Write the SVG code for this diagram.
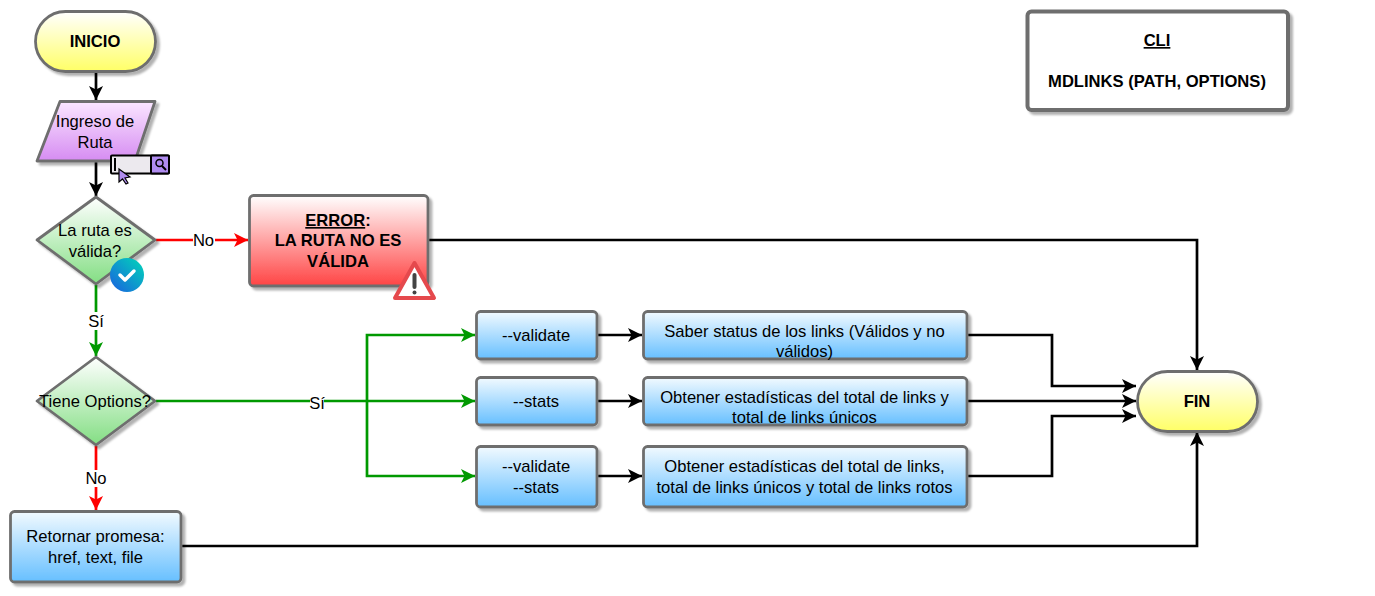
<svg xmlns="http://www.w3.org/2000/svg" width="1375" height="596" viewBox="0 0 1375 596">
<style>
text{font-family:"Liberation Sans",Arial,Helvetica,sans-serif;font-size:16.6px;fill:#000;text-anchor:middle}
.b{font-weight:bold}
.n{stroke:#6e6e6e;stroke-width:2.8;stroke-linejoin:round;filter:url(#sh)}
.y{fill:url(#gy)}.p{fill:url(#gp)}.g{fill:url(#gg)}.bl{fill:url(#gb)}.r{fill:url(#gr)}
.c{fill:none;stroke-width:2.7}
.k{stroke:#000}.gn{stroke:#090}.rd{stroke:#f00}
.lbl{fill:#fff;stroke:none}
</style>
<defs>
<filter id="sh" x="-10%" y="-10%" width="125%" height="125%"><feDropShadow dx="3" dy="3" stdDeviation="1.2" flood-color="#000" flood-opacity="0.3"/></filter>
<linearGradient id="gy" x1="0" y1="0" x2="0" y2="1"><stop offset="0" stop-color="#fff"/><stop offset="1" stop-color="#ff6"/></linearGradient>
<linearGradient id="gp" x1="0" y1="0" x2="0" y2="1"><stop offset="0" stop-color="#fae6ff"/><stop offset="1" stop-color="#d68cf2"/></linearGradient>
<linearGradient id="gg" x1="0" y1="0" x2="0" y2="1"><stop offset="0" stop-color="#fff"/><stop offset="1" stop-color="#83de83"/></linearGradient>
<linearGradient id="gb" x1="0" y1="0" x2="0" y2="1"><stop offset="0" stop-color="#f2faff"/><stop offset="1" stop-color="#66bfff"/></linearGradient>
<linearGradient id="gr" x1="0" y1="0" x2="0" y2="1"><stop offset="0" stop-color="#fff"/><stop offset="1" stop-color="#f44"/></linearGradient>
<linearGradient id="gc" x1="0" y1="1" x2="1" y2="0"><stop offset="0" stop-color="#1a5fe0"/><stop offset="1" stop-color="#00d8b8"/></linearGradient>
<marker id="ak" markerUnits="userSpaceOnUse" markerWidth="16" markerHeight="16" refX="14" refY="7" orient="auto" overflow="visible"><path d="M0 0L14 7L0 14L3.500 7Z" fill="#000"/></marker>
<marker id="ag" markerUnits="userSpaceOnUse" markerWidth="16" markerHeight="16" refX="14" refY="7" orient="auto" overflow="visible"><path d="M0 0L14 7L0 14L3.500 7Z" fill="#090"/></marker>
<marker id="ar" markerUnits="userSpaceOnUse" markerWidth="16" markerHeight="16" refX="14" refY="7" orient="auto" overflow="visible"><path d="M0 0L14 7L0 14L3.500 7Z" fill="#f00"/></marker>
</defs>
<g id="connectors">
<path class="c k" d="M96 72V100" marker-end="url(#ak)"/>
<path class="c k" d="M96 162V196" marker-end="url(#ak)"/>
<path class="c rd" d="M156 240H248" marker-end="url(#ar)"/>
<path class="c gn" d="M96 285V356" marker-end="url(#ag)"/>
<path class="c rd" d="M96 446V510" marker-end="url(#ar)"/>
<path class="c k" d="M429 240H1197V370" marker-end="url(#ak)"/>
<path class="c k" d="M182 546H1197V432" marker-end="url(#ak)"/>
<path class="c gn" d="M156 401H475" marker-end="url(#ag)"/>
<path class="c gn" d="M367 401V335H475" marker-end="url(#ag)"/>
<path class="c gn" d="M367 401V476H475" marker-end="url(#ag)"/>
<path class="c k" d="M598 335H642" marker-end="url(#ak)"/>
<path class="c k" d="M598 401H642" marker-end="url(#ak)"/>
<path class="c k" d="M598 476H642" marker-end="url(#ak)"/>
<path class="c k" d="M968 335H1052V386H1136" marker-end="url(#ak)"/>
<path class="c k" d="M968 401H1136" marker-end="url(#ak)"/>
<path class="c k" d="M968 476H1052V416H1136" marker-end="url(#ak)"/>
<rect class="lbl" x="193" y="232" width="22" height="17"/><text x="203.500" y="246">No</text>
<rect class="lbl" x="87" y="312" width="18" height="18"/><text x="96" y="327">Sí</text>
<rect class="lbl" x="310" y="393" width="14" height="17"/><text x="317" y="409">Sí</text>
<rect class="lbl" x="85" y="470" width="22" height="17"/><text x="96" y="484">No</text>
</g>
<g id="inicio"><rect class="n y" x="35.500" y="11.500" width="120" height="60" rx="30"/><text class="b" x="95" y="47">INICIO</text></g>
<g id="ingreso"><path class="n p" d="M60 101.500H155L135 161H37Z"/><text x="95" y="127">Ingreso de</text><text x="95" y="148">Ruta</text></g>
<g id="search-icon">
<rect x="111" y="155.500" width="58" height="18" rx="1" fill="#ece9ee" stroke="#000" stroke-width="2"/>
<rect x="151" y="155.500" width="18" height="18" rx="1" fill="#b08cf0" stroke="#000" stroke-width="2"/>
<circle cx="159.500" cy="163" r="3.500" fill="none" stroke="#000" stroke-width="1.500"/><path d="M162 166L166 170" stroke="#000" stroke-width="2"/>
<path d="M115 158V171" stroke="#000" stroke-width="2"/>
<path d="M119 169L130 177L125 178L128 183L126 184L122.500 179L119 182Z" fill="#b08cf0" stroke="#000" stroke-width="1.200"/>
</g>
<g id="valida"><path class="n g" d="M96 197L155 240L96 284L37 240Z"/><text x="95" y="236">La ruta es</text><text x="95" y="257">válida?</text>
<circle cx="127" cy="275" r="17" fill="url(#gc)"/><path d="M120 275L125 280L134 271" fill="none" stroke="#fff" stroke-width="3.500" stroke-linecap="round" stroke-linejoin="round"/></g>
<g id="error"><rect class="n r" x="249.500" y="195.500" width="178.500" height="90.500" rx="4"/><text class="b" x="338" y="226"><tspan text-decoration="underline">ERROR</tspan>:</text><text class="b" x="338" y="245.500">LA RUTA NO ES</text><text class="b" x="338" y="266.500">VÁLIDA</text>
<path d="M414.500 263L434 298H395Z" fill="#fff" stroke="#e5494d" stroke-width="4" stroke-linejoin="round"/><path d="M414.500 275V287" stroke="#444" stroke-width="4" stroke-linecap="round"/><circle cx="414.500" cy="292.500" r="2" fill="#444"/></g>
<g id="options"><path class="n g" d="M96 357L155 401L96 445L37 401Z"/><text x="95" y="407">Tiene Options?</text></g>
<g id="retornar"><rect class="n bl" x="10.500" y="511.500" width="170.500" height="70.500" rx="4"/><text x="95.500" y="542">Retornar promesa:</text><text x="95.500" y="563">href, text, file</text></g>
<g id="validate"><rect class="n bl" x="476.500" y="311.500" width="120.500" height="47.500" rx="4"/><text x="536" y="341">--validate</text></g>
<g id="stats"><rect class="n bl" x="476.500" y="377.500" width="120.500" height="47.500" rx="4"/><text x="536" y="407">--stats</text></g>
<g id="validate-stats"><rect class="n bl" x="476.500" y="446.500" width="120.500" height="60.500" rx="4"/><text x="536" y="472">--validate</text><text x="536" y="493">--stats</text></g>
<g id="status"><rect class="n bl" x="643.500" y="311.500" width="323.500" height="47.500" rx="4"/><text x="804.500" y="337">Saber status de los links (Válidos y no</text><text x="804.500" y="357">válidos)</text></g>
<g id="estadisticas"><rect class="n bl" x="643.500" y="377.500" width="323.500" height="47.500" rx="4"/><text x="804.500" y="403">Obtener estadísticas del total de links y</text><text x="804.500" y="423">total de links únicos</text></g>
<g id="rotos"><rect class="n bl" x="643.500" y="446.500" width="323.500" height="60.500" rx="4"/><text x="804.500" y="472">Obtener estadísticas del total de links,</text><text x="804.500" y="493">total de links únicos y total de links rotos</text></g>
<g id="fin"><rect class="n y" x="1137.500" y="371.500" width="120" height="60" rx="30"/><text class="b" x="1197" y="407">FIN</text></g>
<g id="cli"><rect x="1027.500" y="11.500" width="260.500" height="98.500" rx="4" fill="#fff" stroke="#6e6e6e" stroke-width="4" filter="url(#sh)"/><text class="b" x="1157" y="46" text-decoration="underline">CLI</text><text class="b" x="1157" y="87">MDLINKS (PATH, OPTIONS)</text></g>
</svg>
